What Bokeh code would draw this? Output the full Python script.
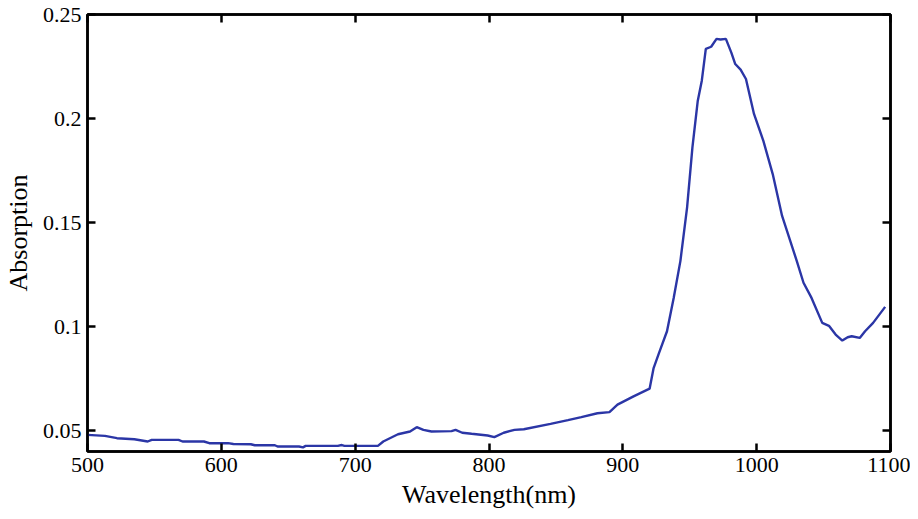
from bokeh.plotting import figure
from bokeh.models import LinearAxis, FixedTicker, Range1d
from bokeh.embed import file_html
from bokeh.resources import INLINE

wavelength = [500, 513, 522, 535, 545, 548, 568, 571, 587, 591, 605, 609, 622, 625, 640, 642,
              658, 661, 663, 687, 690, 692, 700, 717, 721, 732, 741, 746, 751, 757, 772, 775,
              780, 787, 799, 804, 811, 819, 826, 846, 859, 869, 881, 890, 896, 908, 920, 923,
              927, 933, 938, 943, 948, 952, 956, 959, 962, 966, 970, 973, 977, 981, 984, 988,
              992, 998, 1005, 1012, 1019, 1030, 1035, 1041, 1049, 1054, 1059, 1064, 1068, 1071,
              1077, 1081, 1087, 1096]
absorption = [0.0480, 0.0475, 0.0464, 0.0459, 0.0448, 0.0456, 0.0456, 0.0448, 0.0448, 0.0440,
              0.0440, 0.0436, 0.0435, 0.0430, 0.0430, 0.0424, 0.0424, 0.0420, 0.0427, 0.0427,
              0.0431, 0.0427, 0.0427, 0.0427, 0.0448, 0.0483, 0.0496, 0.0517, 0.0504, 0.0496,
              0.0498, 0.0504, 0.0490, 0.0485, 0.0477, 0.0469, 0.0490, 0.0504, 0.0507, 0.0533,
              0.0551, 0.0565, 0.0584, 0.0589, 0.0625, 0.0665, 0.0702, 0.0801, 0.0873, 0.0978,
              0.1138, 0.1315, 0.1572, 0.1861, 0.2086, 0.2182, 0.2335, 0.2345, 0.2383, 0.2380,
              0.2383, 0.2318, 0.2262, 0.2235, 0.2190, 0.2022, 0.1893, 0.1733, 0.1532, 0.1315,
              0.1211, 0.1138, 0.1018, 0.1004, 0.0962, 0.0933, 0.0949, 0.0954, 0.0946, 0.0978,
              0.1018, 0.1095]

x_ticks = [500, 600, 700, 800, 900, 1000, 1100]
y_ticks = [0.05, 0.1, 0.15, 0.2, 0.25]
y_tick_labels = {0.05: "0.05", 0.1: "0.1", 0.15: "0.15", 0.2: "0.2", 0.25: "0.25"}

FONT = "Liberation Serif"

p = figure(width=910, height=511, output_backend="svg", toolbar_location=None,
           x_range=Range1d(500, 1100), y_range=Range1d(0.04, 0.25),
           min_border_left=86, min_border_top=14, min_border_right=20, min_border_bottom=60)

p.line(wavelength, absorption, line_color="#2B36A6", line_width=2.4)

p.grid.visible = False
p.outline_line_color = "black"
p.outline_line_width = 2.5

for ax in p.xaxis + p.yaxis:
    ax.major_tick_in = 8
    ax.major_tick_out = 0
    ax.minor_tick_in = 0
    ax.minor_tick_out = 0
    ax.axis_line_width = 2.5
    ax.major_tick_line_width = 2.5
    ax.major_label_text_font = FONT
    ax.major_label_text_font_size = "22px"
    ax.major_label_text_color = "black"
    ax.axis_label_text_font = FONT
    ax.axis_label_text_font_size = "26px"
    ax.axis_label_text_font_style = "normal"
    ax.axis_label_text_color = "black"

p.xaxis.ticker = FixedTicker(ticks=x_ticks)
p.yaxis.ticker = FixedTicker(ticks=y_ticks)
p.yaxis.major_label_overrides = y_tick_labels
p.xaxis.axis_label = "Wavelength(nm)"
p.yaxis.axis_label = "Absorption"
p.xaxis.major_label_standoff = 6
p.yaxis.major_label_standoff = 6
p.xaxis.axis_label_standoff = 5
p.yaxis.axis_label_standoff = 7

top = LinearAxis(ticker=FixedTicker(ticks=x_ticks),
                 major_label_overrides={t: "" for t in x_ticks},
                 major_tick_in=8, major_tick_out=0, minor_tick_in=0, minor_tick_out=0,
                 axis_line_width=2.5, major_tick_line_width=2.5, major_label_standoff=0)
right = LinearAxis(ticker=FixedTicker(ticks=y_ticks),
                   major_label_overrides={t: "" for t in y_ticks},
                   major_tick_in=8, major_tick_out=0, minor_tick_in=0, minor_tick_out=0,
                   axis_line_width=2.5, major_tick_line_width=2.5, major_label_standoff=0)
p.add_layout(top, "above")
p.add_layout(right, "right")

open("out.html", "w").write(file_html(p, INLINE))
